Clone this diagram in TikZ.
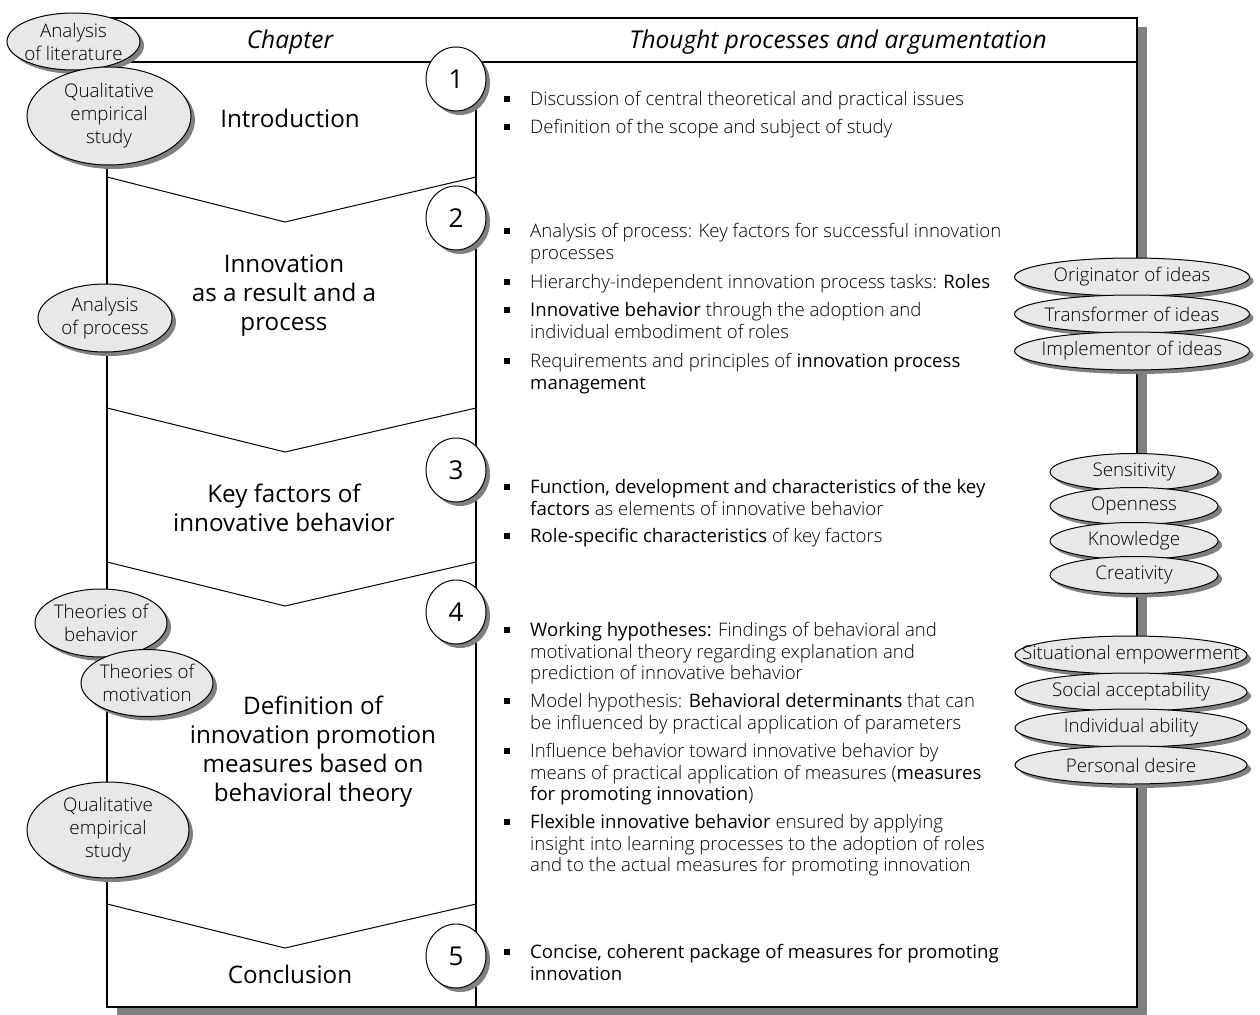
\documentclass[tikz,border=0pt]{standalone}
\usepackage{fontspec}
\usetikzlibrary{shapes.geometric,shadows}
\IfFontExistsTF{Open Sans Light}{%
  \setmainfont{Open Sans Light}[BoldFont={Open Sans},ItalicFont={Open Sans Italic}]%
}{%
  \setmainfont{Open Sans}%
}
\newfontfamily\regfont{Open Sans}
\definecolor{tagfill}{RGB}{232,232,232}
\definecolor{shadowgray}{RGB}{128,128,128}
% a block of lines whose first baseline is the reference point
\newcommand\itemlines[1]{\begin{tabular}[t]{@{}l@{}}#1\end{tabular}}

\begin{document}
\begin{tikzpicture}[x=1pt,y=-1pt,
  frame/.style={line width=1.4pt},
  sepline/.style={line width=1pt},
  item/.style={anchor=base west, inner sep=0pt,
    font=\fontsize{18.6}{21.5}\selectfont},
  bulletsq/.style={rectangle, fill=black, inner sep=0pt, minimum size=5.5pt},
  heading/.style={inner sep=0pt, font=\regfont\itshape\fontsize{24.5}{28}\selectfont},
  chaptertitle/.style={align=center, inner sep=0pt,
    font=\regfont\fontsize{24.2}{29}\selectfont},
  numcirc/.style={ellipse, draw, line width=1pt, fill=white, inner sep=0pt,
    minimum width=60pt, minimum height=64pt,
    font=\regfont\fontsize{26}{26}\selectfont,
    drop shadow={shadow xshift=4pt, shadow yshift=-4pt, fill=shadowgray, opacity=1}},
  tag/.style={ellipse, draw, line width=1pt, fill=tagfill, inner sep=0pt,
    drop shadow={shadow xshift=4pt, shadow yshift=-4pt, fill=shadowgray, opacity=1}},
  tagtext/.style={align=center, inner sep=0pt, font=\fontsize{18.8}{23}\selectfont},
]
\useasboundingbox (0,0) rectangle (1260,1014);

% table frame with its shadow
\fill[shadowgray] (117,27) rectangle (1147,1016);
\draw[frame, fill=white] (107,18) rectangle (1137,1007);
\draw[frame] (107,62) -- (1137,62);
\draw[frame] (476,62) -- (476,1007);

% chevrons between the chapters
\draw[sepline] (107,177) -- (285,222) -- (476,177);
\draw[sepline] (107,408) -- (285,452) -- (476,408);
\draw[sepline] (107,562) -- (285,606) -- (476,562);
\draw[sepline] (107,904) -- (285,948) -- (476,904);

% column headings
\node[heading] (hchap) at (290,42) {Chapter};
\node[heading] (hthought) at (838,42) {Thought processes and argumentation};

% chapter titles
\node[chaptertitle] (c1) at (290,118) {Introduction};
\node[chaptertitle] (c2) at (284,296) {Innovation\\as a result and a\\process};
\node[chaptertitle] (c3) at (284,508) {Key factors of\\innovative behavior};
\node[chaptertitle] (c4) at (313,752) {Definition of\\innovation promotion\\measures based on\\behavioral theory};
\node[chaptertitle] (c5) at (290,974) {Conclusion};

% numbered markers
\node[numcirc] (n1) at (456,79) {1};
\node[numcirc] (n2) at (456,218) {2};
\node[numcirc] (n3) at (456,470) {3};
\node[numcirc] (n4) at (456,612) {4};
\node[numcirc] (n5) at (456,956) {5};

% bullet points, chapter 1
\node[bulletsq] (b11) at (507,99) {};
\node[item] (t11) at (530,105.5) {\itemlines{Discussion of central theoretical and practical issues}};
\node[bulletsq] (b12) at (507,127) {};
\node[item] (t12) at (530,133.5) {\itemlines{Definition of the scope and subject of study}};

% chapter 2
\node[bulletsq] (b21) at (507,231) {};
\node[item] (t21) at (530,237.5) {\itemlines{Analysis of process: Key factors for successful innovation\\processes}};
\node[bulletsq] (b22) at (507,282) {};
\node[item] (t22) at (530,288.5) {\itemlines{Hierarchy-independent innovation process tasks: \textbf{Roles}}};
\node[bulletsq] (b23) at (507,310) {};
\node[item] (t23) at (530,316.5) {\itemlines{\textbf{Innovative behavior} through the adoption and\\individual embodiment of roles}};
\node[bulletsq] (b24) at (507,361) {};
\node[item] (t24) at (530,367.5) {\itemlines{Requirements and principles of \textbf{innovation process}\\\textbf{management}}};

% chapter 3
\node[bulletsq] (b31) at (507,487) {};
\node[item] (t31) at (530,493.5) {\itemlines{\textbf{Function, development and characteristics of the key}\\\textbf{factors} as elements of innovative behavior}};
\node[bulletsq] (b32) at (507,536) {};
\node[item] (t32) at (530,542.5) {\itemlines{\textbf{Role-specific characteristics} of key factors}};

% chapter 4
\node[bulletsq] (b41) at (507,630) {};
\node[item] (t41) at (530,636.5) {\itemlines{\textbf{Working hypotheses:} Findings of behavioral and\\motivational theory regarding explanation and\\prediction of innovative behavior}};
\node[bulletsq] (b42) at (507,701) {};
\node[item] (t42) at (530,707.5) {\itemlines{Model hypothesis: \textbf{Behavioral determinants} that can\\be influenced by practical application of parameters}};
\node[bulletsq] (b43) at (507,751) {};
\node[item] (t43) at (530,757.5) {\itemlines{Influence behavior toward innovative behavior by\\means of practical application of measures (\textbf{measures}\\\textbf{for promoting innovation})}};
\node[bulletsq] (b44) at (507,822) {};
\node[item] (t44) at (530,828.5) {\itemlines{\textbf{Flexible innovative behavior} ensured by applying\\insight into learning processes to the adoption of roles\\and to the actual measures for promoting innovation}};

% chapter 5
\node[bulletsq] (b51) at (507,952) {};
\node[item] (t51) at (530,958.5) {\itemlines{\textbf{Concise, coherent package of measures for promoting}\\\textbf{innovation}}};

% methods on the left
\node[tag, minimum width=133pt, minimum height=57pt,
  label={[tagtext]center:Analysis\\of literature}] (mlit) at (73.5,41.5) {};
\node[tag, minimum width=164pt, minimum height=98pt,
  label={[tagtext]center:Qualitative\\empirical\\study}] (mqual1) at (109,116) {};
\node[tag, minimum width=134pt, minimum height=68pt,
  label={[tagtext]center:Analysis\\of process}] (mproc) at (105,318) {};
\node[tag, minimum width=132pt, minimum height=68pt,
  label={[tagtext]center:Theories of\\behavior}] (mbeh) at (101,623) {};
\node[tag, minimum width=132pt, minimum height=67pt,
  label={[tagtext]center:Theories of\\motivation}] (mmot) at (147,683) {};
\node[tag, minimum width=162pt, minimum height=96pt,
  label={[tagtext]center:Qualitative\\empirical\\study}] (mqual2) at (108,830) {};

% roles
\node[tag, minimum width=235pt, minimum height=38pt,
  label={[tagtext]center:Originator of ideas}] (r1) at (1132,277) {};
\node[tag, minimum width=235pt, minimum height=38pt,
  label={[tagtext]center:Transformer of ideas}] (r2) at (1132,314) {};
\node[tag, minimum width=235pt, minimum height=38pt,
  label={[tagtext]center:Implementor of ideas}] (r3) at (1132,351) {};

% key factors
\node[tag, minimum width=168pt, minimum height=37pt,
  label={[tagtext]center:Sensitivity}] (k1) at (1134,472) {};
\node[tag, minimum width=168pt, minimum height=37pt,
  label={[tagtext]center:Openness}] (k2) at (1134,506) {};
\node[tag, minimum width=168pt, minimum height=37pt,
  label={[tagtext]center:Knowledge}] (k3) at (1134,541) {};
\node[tag, minimum width=168pt, minimum height=37pt,
  label={[tagtext]center:Creativity}] (k4) at (1134,575) {};

% behavioral determinants
\node[tag, minimum width=232pt, minimum height=38pt,
  label={[tagtext]center:Situational empowerment}] (d1) at (1131,655) {};
\node[tag, minimum width=232pt, minimum height=38pt,
  label={[tagtext]center:Social acceptability}] (d2) at (1131,692) {};
\node[tag, minimum width=232pt, minimum height=38pt,
  label={[tagtext]center:Individual ability}] (d3) at (1131,728) {};
\node[tag, minimum width=232pt, minimum height=38pt,
  label={[tagtext]center:Personal desire}] (d4) at (1131,765) {};
\end{tikzpicture}
\end{document}
